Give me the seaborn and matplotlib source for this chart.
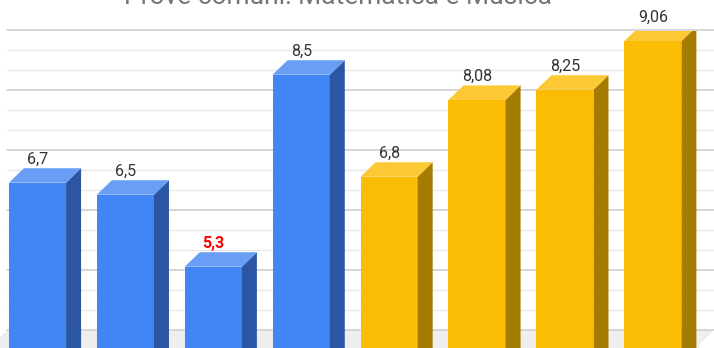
import matplotlib
matplotlib.use("Agg")
import matplotlib.pyplot as plt
from matplotlib.patches import Polygon
from matplotlib.transforms import ScaledTranslation
import numpy as np
import seaborn as sns

# --- data -----------------------------------------------------------------
prove = ["Prova 1", "Prova 2", "Prova 3", "Prova 4",
         "Prova 5", "Prova 6", "Prova 7", "Prova 8"]
materie = ["Matematica"] * 4 + ["Musica"] * 4
voti = [6.7, 6.5, 5.3, 8.5, 6.8, 8.08, 8.25, 9.06]
titolo = "Prove comuni: Matematica e Musica"

# --- style ----------------------------------------------------------------
sns.set_style("white")
plt.rcParams["font.family"] = ["Roboto", "DejaVu Sans"]

front = {"Matematica": "#4285f4", "Musica": "#fbbc04"}
side = {"Matematica": "#2a56a4", "Musica": "#a67c00"}
top = {"Matematica": "#699df6", "Musica": "#fcc934"}

DPI = 100
W, H = 714, 348
DX, DY = 15.0, 14.5          # depth of the 3D extrusion, in pixels
TOP_PX = 30.5                # plot area top, pixels from figure top

fig = plt.figure(figsize=(W / DPI, H / DPI), dpi=DPI)
ax = fig.add_axes([0, 0, 1, (H - TOP_PX) / H])

# front faces
sns.barplot(x=prove, y=voti, hue=materie, palette=front, dodge=False,
            width=0.65, saturation=1, linewidth=0, legend=False,
            ax=ax, zorder=3)
bars = sorted(ax.patches, key=lambda p: p.get_x())

ax.set_xlim(-0.4266, 7.696)
ax.set_ylim(3.945, 9.237)
ax.axis("off")

depth = ScaledTranslation(DX / DPI, DY / DPI, fig.dpi_scale_trans)
back = ax.transData + depth

# floor (back edge at the axis minimum, front edge shifted by the depth)
to_data = ax.transData.inverted()
def disp(x, y):
    return ax.transData.transform((x, y))

y_min = 4.0
fl, fr = -0.512, 7.525
pts = [disp(fl, y_min) + (DX, DY), disp(fr, y_min) + (DX, DY),
       disp(fr, y_min), disp(fr, 0), disp(fl, 0), disp(fl, y_min)]
ax.add_patch(Polygon(to_data.transform(np.array(pts)), closed=True,
                     facecolor="#eeeeee", edgecolor="none", zorder=1))

# gridlines on the back wall
for k in range(0, 16):
    v = y_min + k / 3
    major = k % 3 == 0
    ax.plot([fl, fr], [v, v], transform=back,
            color="#cccccc" if major else "#e6e6e6",
            lw=1.1 if major else 0.9, zorder=2, clip_on=(k != 15))

# side and top faces
for p, v, m in zip(bars, voti, materie):
    x0, x1 = p.get_x(), p.get_x() + p.get_width()
    fl_t, fr_t, fr_b = disp(x0, v), disp(x1, v), disp(x1, 0)
    side_pts = [fr_b, fr_t, fr_t + (DX, DY), fr_b + (DX, DY)]
    top_pts = [fl_t, fr_t, fr_t + (DX, DY), fl_t + (DX, DY)]
    ax.add_patch(Polygon(to_data.transform(np.array(side_pts)), closed=True,
                         facecolor=side[m], edgecolor="none", zorder=3))
    ax.add_patch(Polygon(to_data.transform(np.array(top_pts)), closed=True,
                         facecolor=top[m], edgecolor="none", zorder=3))

    testo = f"{v:g}".replace(".", ",")
    rosso = v < 6
    ax.annotate(testo, xy=((x0 + x1) / 2, v), xytext=(0, 19 * 72 / DPI),
                textcoords="offset points", ha="center", va="baseline",
                fontsize=11.5, color="#ff0000" if rosso else "#333333",
                fontweight="bold" if rosso else "normal",
                annotation_clip=False, zorder=5)

fig.text(338 / W, 1 - 3.5 / H, titolo, ha="center", va="baseline",
         fontsize=19, color="#757575")

fig.savefig("out.png", dpi=DPI, facecolor="white")
